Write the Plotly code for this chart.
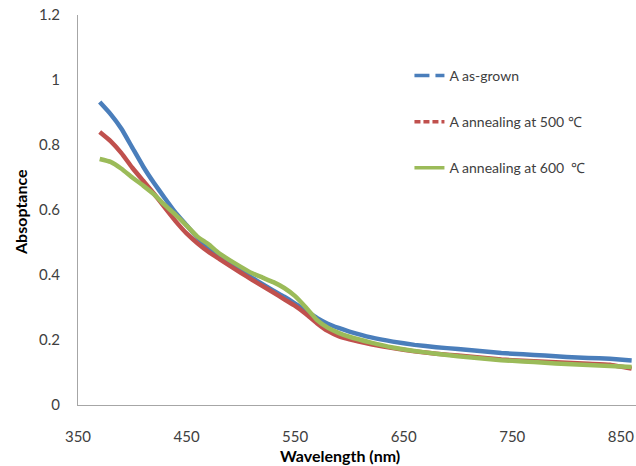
import plotly.graph_objects as go

# Absorptance spectra of sample A before and after annealing
wavelength = [370, 380, 390, 400, 410, 420, 430, 440, 450, 460, 470, 480, 490,
              500, 510, 520, 530, 540, 550, 560, 570, 580, 590, 600, 620, 640,
              660, 680, 700, 720, 740, 760, 780, 800, 820, 840, 860]

as_grown = [0.932, 0.895, 0.850, 0.792, 0.734, 0.683, 0.636, 0.591, 0.553, 0.515,
            0.486, 0.460, 0.437, 0.414, 0.392, 0.372, 0.352, 0.333, 0.312, 0.290,
            0.268, 0.250, 0.237, 0.226, 0.208, 0.195, 0.185, 0.178, 0.172, 0.166,
            0.160, 0.156, 0.152, 0.148, 0.145, 0.142, 0.137]

anneal_500 = [0.840, 0.812, 0.775, 0.730, 0.690, 0.650, 0.607, 0.565, 0.528, 0.498,
              0.472, 0.450, 0.428, 0.407, 0.386, 0.366, 0.346, 0.325, 0.305, 0.280,
              0.252, 0.228, 0.212, 0.202, 0.187, 0.175, 0.165, 0.158, 0.152, 0.146,
              0.140, 0.136, 0.133, 0.130, 0.127, 0.124, 0.112]

anneal_600 = [0.757, 0.748, 0.727, 0.700, 0.675, 0.648, 0.615, 0.585, 0.552, 0.518,
              0.495, 0.467, 0.445, 0.425, 0.406, 0.392, 0.378, 0.360, 0.335, 0.300,
              0.262, 0.238, 0.222, 0.210, 0.192, 0.177, 0.166, 0.158, 0.150, 0.144,
              0.138, 0.134, 0.130, 0.126, 0.123, 0.120, 0.117]

series_names = ["A as-grown", "A annealing at 500 ℃", "A annealing at 600\u00a0 ℃"]
series_values = [as_grown, anneal_500, anneal_600]
colors = ["#4A7EBB", "#C0504D", "#9BBB59"]
legend_dash = ["15px,6px,9px", "6px,3px", "solid"]

y_ticks = [0, 0.2, 0.4, 0.6, 0.8, 1.0, 1.2]
y_tick_text = ["0", "0.2", "0.4", "0.6", "0.8", "1", "1.2"]
x_ticks = [350, 450, 550, 650, 750, 850]

FONT = "Lato, 'Open Sans', sans-serif"
TEXT = "#404040"

fig = go.Figure()

for name, vals, col in zip(series_names, series_values, colors):
    fig.add_trace(go.Scatter(x=wavelength, y=vals, mode="lines", name=name,
                             line=dict(color=col, width=4.5, shape="spline", smoothing=0.4),
                             showlegend=False, hoverinfo="x+y"))

# legend entries with their line styles
for i, (name, col, dash) in enumerate(zip(series_names, colors, legend_dash)):
    fig.add_trace(go.Scatter(x=[None], y=[None], mode="lines", name=name,
                             line=dict(color=col, width=3.5, dash=dash),
                             legendgroup=f"g{i}", showlegend=True))

fig.update_layout(
    width=636, height=466,
    margin=dict(l=78, r=0, t=15, b=61),
    paper_bgcolor="white", plot_bgcolor="white",
    font=dict(family=FONT, size=14, color=TEXT),
    legend=dict(x=0.594, y=0.885, xanchor="left", yanchor="top",
                bgcolor="rgba(0,0,0,0)", tracegroupgap=25,
                traceorder="grouped", font=dict(size=14, color=TEXT)),
    xaxis=dict(range=[350, 864], tickvals=x_ticks, showgrid=False, zeroline=False,
               showline=True, linecolor="#A6A6A6", linewidth=1.2,
               ticks="", ticklabelstandoff=18,
               tickfont=dict(size=15, color=TEXT)),
    yaxis=dict(range=[0, 1.2], tickvals=y_ticks, ticktext=y_tick_text,
               showgrid=False, zeroline=False, showline=True,
               linecolor="#A6A6A6", linewidth=1.2, ticks="",
               ticklabelstandoff=14, tickfont=dict(size=15, color=TEXT)),
    annotations=[
        dict(text="<b>Wavelength (nm)</b>", xref="paper", yref="paper",
             x=(340 - 78) / 558, y=-(455 - 405) / 390, xanchor="center", yanchor="middle",
             showarrow=False, font=dict(size=16, color="#000000", family=FONT)),
        dict(text="<b>Absoptance</b>", xref="paper", yref="paper",
             x=-(78 - 20) / 558, y=(405 - 212) / 390, xanchor="center", yanchor="middle",
             textangle=-90, showarrow=False,
             font=dict(size=16, color="#000000", family=FONT)),
    ],
)

fig.write_html("out.html")
